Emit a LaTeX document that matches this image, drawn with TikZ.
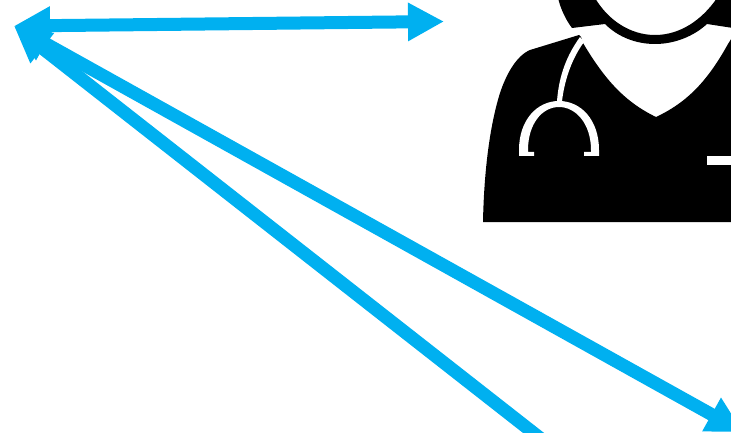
\documentclass[tikz,border=0pt]{standalone}
\usetikzlibrary{arrows.meta}
\definecolor{linkblue}{HTML}{00B0F0}
\tikzset{
  link/.style={draw=linkblue,line width=13pt,{Triangle[length=36pt,width=36pt]}-{Triangle[length=36pt,width=36pt]}},
  ink/.style={fill=black,draw=none},
  paper/.style={fill=white,draw=none}
}
\begin{document}
\begin{tikzpicture}[x=1pt,y=-1pt]
\useasboundingbox (0,0) rectangle (731,433);
\clip (0,0) rectangle (731,433);
% figure: hair and collar ring
\path[ink] (558,-2) .. controls (561,10) and (566,20) .. (572,28)
  -- (605,24) .. controls (618,37) and (636,44) .. (655,44)
  .. controls (675,44) and (694,36) .. (707,24) -- (733,28) -- (733,-2) -- (717,-2)
  .. controls (702,20) and (680,35) .. (655,35)
  .. controls (630,35) and (608,20) .. (595,-2) -- cycle;
% figure: body
\path[ink] (483,222) .. controls (484,170) and (490,125) .. (500,93)
  .. controls (506,75) and (516,56) .. (530,50)
  -- (579,35) -- (581,37) -- (583,43)
  .. controls (605,80) and (625,102) .. (656,117)
  .. controls (688,102) and (708,80) .. (728,44) -- (733,36) -- (733,222) -- cycle;
% stethoscope
\path[paper] (580,37) .. controls (567,55) and (559,75) .. (557,101)
  -- (562,101) .. controls (565,77) and (573,57) .. (584,42) -- cycle;
\path[paper] (519,156) -- (519,150)
  .. controls (519,120) and (537,101) .. (559,101)
  .. controls (581,101) and (599,120) .. (599,150) -- (599,156)
  -- (584,156) -- (584,152) -- (591,152) -- (591,150)
  .. controls (591,124) and (576,107) .. (559,107)
  .. controls (542,107) and (528,124) .. (528,150) -- (528,152)
  -- (534,152) -- (534,156) -- cycle;
% pocket
\path[paper] (707,156) rectangle (733,165);
% connectors
\coordinate (hub) at (14,26);
\coordinate (east) at (444,21.5);
\coordinate (southeast) at (743,432);
\coordinate (south) at (600,485);
\draw[link] (hub) -- (south);
\draw[link] (hub) -- (southeast);
\draw[link] (hub) -- (east);
\end{tikzpicture}
\end{document}
